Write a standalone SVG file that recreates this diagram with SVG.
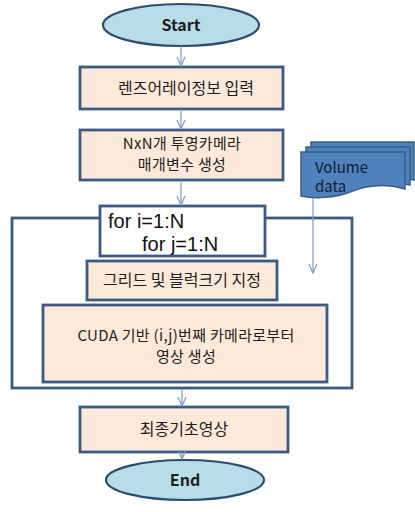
<svg xmlns="http://www.w3.org/2000/svg" width="415" height="512" viewBox="0 0 415 512">
<defs>
<style>
.box{fill:#fde9d9;stroke:#3b5a86;stroke-width:2.8}
.frame{fill:#ffffff;stroke:#3b5a86;stroke-width:2.8}
.term{fill:#b7dde8;stroke:#2f4b6e;stroke-width:2.2}
.doc{fill:#4f81bd;stroke:#385d8a;stroke-width:1.5}
.t{font-family:"Noto Sans CJK KR","Liberation Sans",sans-serif;font-size:16px;fill:#1e1e1e;text-anchor:middle}
.m{font-size:15px;letter-spacing:0.3px}
.b{font-weight:bold;font-size:16px}
.f{font-family:"Liberation Sans","Noto Sans CJK KR",sans-serif;font-size:20px;fill:#111}
.v{font-family:"Noto Sans CJK KR","Liberation Sans",sans-serif;font-size:15px;fill:#0f1e33}
.conn{stroke:#7a9cc6;stroke-width:1.2;fill:none;marker-end:url(#ah)}
</style>
<marker id="ah" markerWidth="12" markerHeight="10" refX="10" refY="5" orient="auto" markerUnits="userSpaceOnUse">
<path d="M1,1 L10,5 L1,9" fill="none" stroke="#7a9cc6" stroke-width="1.2"/>
</marker>
</defs>

<g id="loop">
<rect class="frame" x="12" y="218" width="340" height="170"/>
</g>

<g id="start">
<ellipse class="term" cx="181" cy="25" rx="78" ry="21"/>
<text class="t b" x="181" y="31">Start</text>
</g>

<g id="lens">
<rect class="box" x="80" y="67" width="203" height="42"/>
<text class="t" x="186" y="94">렌즈어레이정보 입력</text>
</g>

<g id="params">
<rect class="box" x="80" y="130" width="203" height="50"/>
<text class="t m" x="182" y="149">NxN개 투영카메라</text>
<text class="t m" x="182" y="170">매개변수 생성</text>
</g>

<g id="for">
<rect class="frame" x="100" y="206" width="165" height="50"/>
<text class="f" x="108" y="228">for i=1:N</text>
<text class="f" x="142" y="251">for j=1:N</text>
</g>

<g id="grid">
<rect class="box" x="87" y="261" width="190" height="39"/>
<text class="t" x="182" y="286">그리드 및 블럭크기 지정</text>
</g>

<g id="cuda">
<rect class="box" x="43" y="305" width="284" height="77"/>
<text class="t m" x="186" y="341">CUDA 기반 (i,j)번째 카메라로부터</text>
<text class="t m" x="186" y="362">영상 생성</text>
</g>

<g id="final">
<rect class="box" x="80" y="407" width="208" height="45"/>
<text class="t" x="184" y="435">최종기초영상</text>
</g>

<g id="end">
<ellipse class="term" cx="185" cy="480" rx="79" ry="20"/>
<text class="t b" x="185" y="486">End</text>
</g>

<g id="volume">
<path class="doc" d="M311,142 H414 V180 C395,175 378,178 364,183 L311,183 Z"/>
<path class="doc" d="M306,147 H410 V185 C390,180 372,183 358,188 L306,188 Z"/>
<path class="doc" d="M301,152 H405 V189 C385,183 365,186 350,192 C335,198 315,199 301,196 Z"/>
<text class="v" x="315" y="173">Volume</text>
<text class="v" x="315" y="192">data</text>
</g>

<g id="connectors">
<line class="conn" x1="181" y1="46" x2="181" y2="66"/>
<line class="conn" x1="181" y1="109" x2="181" y2="129"/>
<line class="conn" x1="181" y1="180" x2="181" y2="205"/>
<line class="conn" x1="313" y1="198" x2="313" y2="273"/>
<line class="conn" x1="182" y1="389" x2="182" y2="406"/>
<line class="conn" x1="182" y1="452" x2="182" y2="459"/>
</g>
</svg>
